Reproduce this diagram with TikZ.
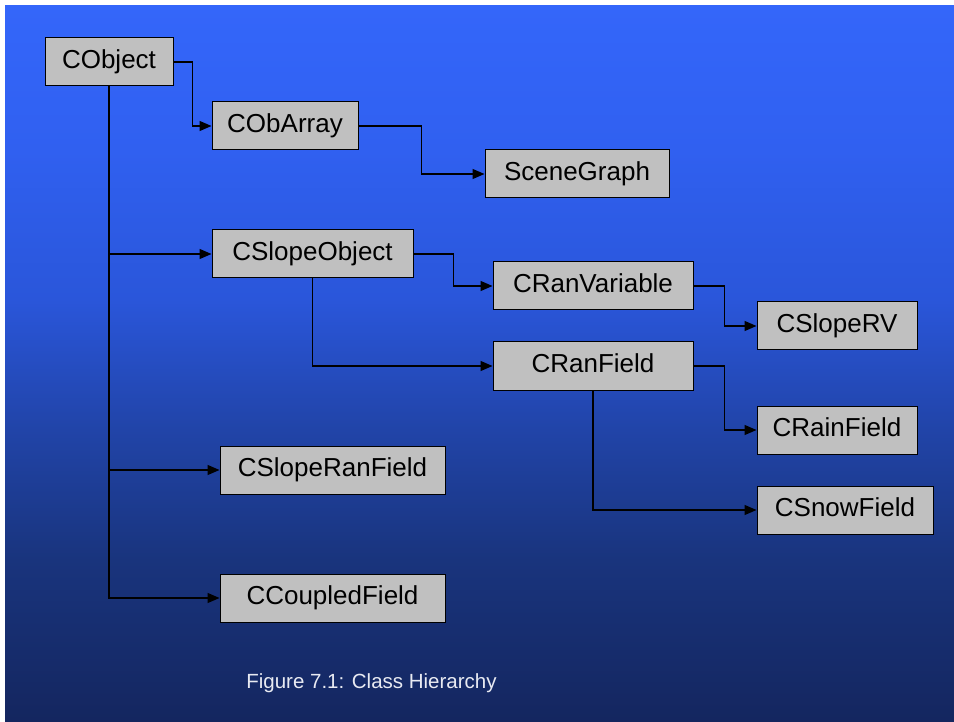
\documentclass[tikz,border=0pt]{standalone}
\usepackage{fontspec}
\setmainfont{Liberation Sans}
\usetikzlibrary{arrows.meta}

% background colours, bottom to top
\definecolor{bgA}{RGB}{20,38,95}
\definecolor{bgB}{RGB}{25,52,125}
\definecolor{bgC}{RGB}{33,68,168}
\definecolor{bgD}{RGB}{42,86,218}
\definecolor{bgE}{RGB}{48,96,240}
\definecolor{bgF}{RGB}{52,102,250}
\definecolor{boxfill}{RGB}{192,192,192}
\definecolor{captioncol}{RGB}{232,234,242}

\pgfdeclareverticalshading{slidebg}{100bp}{%
  color(0bp)=(bgA); color(25bp)=(bgA); color(36.3bp)=(bgB);
  color(45.4bp)=(bgC); color(54.5bp)=(bgD); color(64.9bp)=(bgE);
  color(75bp)=(bgF); color(100bp)=(bgF)}

\tikzset{
  cls/.style={draw=black, line width=1pt, fill=boxfill, minimum height=48pt,
    inner sep=0pt, text height=19pt, text depth=5.5pt,
    font=\fontsize{26}{30}\selectfont, text=black},
  conn/.style={draw=black, line width=1.2pt,
    -{Triangle[length=12pt,width=10pt]}}
}

\begin{document}
\begin{tikzpicture}[x=1pt,y=-1pt]
  \useasboundingbox (0,0) rectangle (954,722);
  \fill[white] (0,0) rectangle (954,722);
  \shade[shading=slidebg] (5,6) rectangle (954,722);

  % class boxes
  \node[cls, minimum width=128pt] (cobject)        at (109,62)    {CObject};
  \node[cls, minimum width=146pt] (cobarray)       at (285,126)   {CObArray};
  \node[cls, minimum width=184pt] (scenegraph)     at (577,174)   {SceneGraph};
  \node[cls, minimum width=201pt] (cslopeobject)   at (312.5,254) {CSlopeObject};
  \node[cls, minimum width=200pt] (cranvariable)   at (593,286)   {CRanVariable};
  \node[cls, minimum width=200pt] (cranfield)      at (593,366)   {CRanField};
  \node[cls, minimum width=160pt] (csloperv)       at (837,326)   {CSlopeRV};
  \node[cls, minimum width=160pt] (crainfield)     at (837,430)   {CRainField};
  \node[cls, minimum width=176pt] (csnowfield)     at (845,510)   {CSnowField};
  \node[cls, minimum width=225pt] (csloperanfield) at (332.5,470) {CSlopeRanField};
  \node[cls, minimum width=225pt] (ccoupledfield)  at (332.5,598) {CCoupledField};

  % inheritance connectors
  \draw[conn] (cobject.east) -- ++(19,0) |- (cobarray.west);
  \draw[conn] (cobarray.east) -- ++(63,0) |- (scenegraph.west);
  \draw[conn] (cobject.south) |- (cslopeobject.west);
  \draw[conn] (cobject.south) |- (csloperanfield.west);
  \draw[conn] (cobject.south) |- (ccoupledfield.west);
  \draw[conn] (cslopeobject.east) -- ++(40,0) |- (cranvariable.west);
  \draw[conn] (cslopeobject.south) |- (cranfield.west);
  \draw[conn] (cranvariable.east) -- ++(31,0) |- (csloperv.west);
  \draw[conn] (cranfield.east) -- ++(31,0) |- (crainfield.west);
  \draw[conn] (cranfield.south) |- (csnowfield.west);

  % caption
  \node[anchor=base, inner sep=0pt, text=captioncol,
        font=\fontsize{20.5}{24}\selectfont] (caption) at (371.5,688)
        {Figure 7.1: Class Hierarchy};
\end{tikzpicture}
\end{document}
